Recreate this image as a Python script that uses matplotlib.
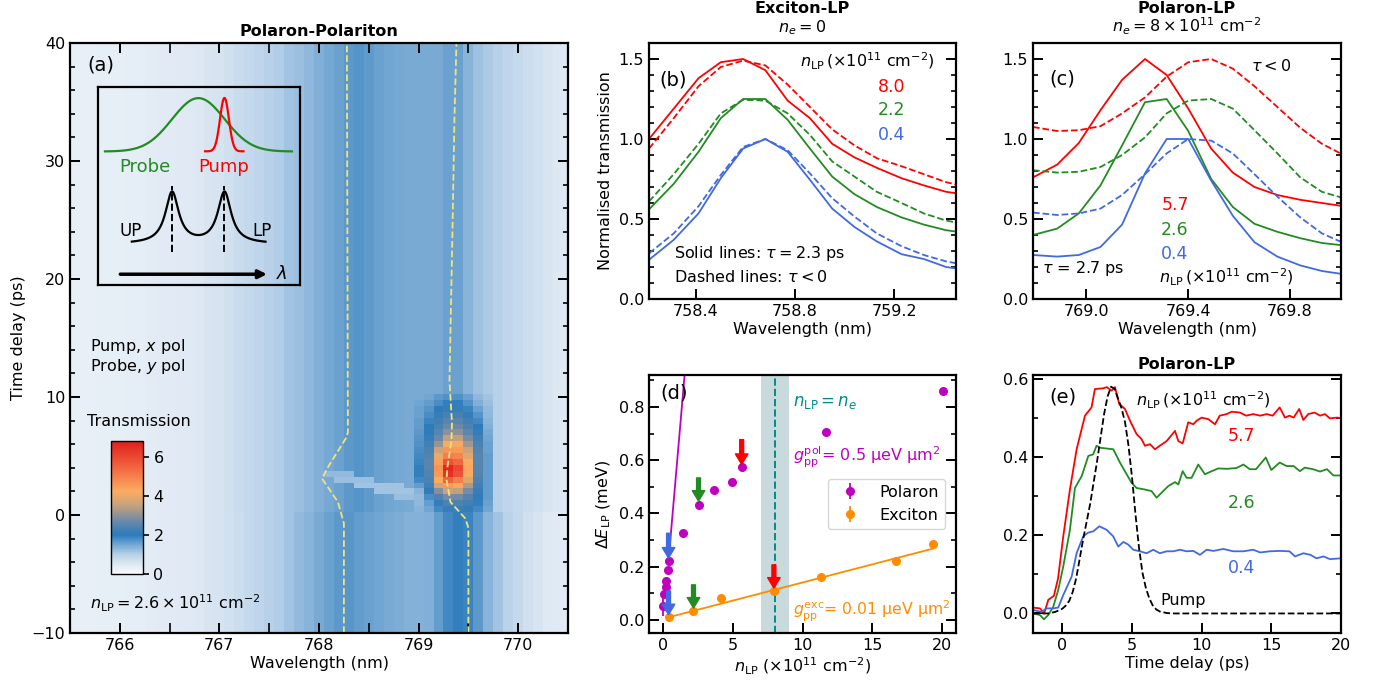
import numpy as np
import matplotlib
matplotlib.use('Agg')
import matplotlib.pyplot as plt
from matplotlib.colors import LinearSegmentedColormap

RED = 'red'
GREEN = 'forestgreen'
BLUE = 'royalblue'
MAG = 'm'
ORANGE = 'darkorange'
TEAL = 'darkcyan'
YEL = '#f2e27a'

plt.rcParams.update({
    'font.family': 'DejaVu Sans', 'font.size': 11,
    'axes.linewidth': 1.6, 'xtick.major.width': 1.4, 'ytick.major.width': 1.4,
    'xtick.minor.width': 1.2, 'ytick.minor.width': 1.2,
    'xtick.labelsize': 11.5, 'ytick.labelsize': 11.5, 'axes.labelsize': 11.5,
})

# ---------------- (a) heatmap data ----------------
wl_a = np.round(np.arange(765.5, 770.51, 0.1), 2)      # measured columns (nm)
t_a = np.arange(-10, 40.01, 0.5)                       # measured rows (ps)
# transmission spectra before (t <= 0) and after pump
spec_neg = [0.30, 0.30, 0.31, 0.32, 0.33, 0.34, 0.35, 0.36, 0.38, 0.40,
            0.42, 0.45, 0.48, 0.52, 0.56, 0.60, 0.66, 0.72, 0.80, 0.88,
            0.96, 1.05, 1.15, 1.25, 1.35, 1.45, 1.55, 1.65, 1.68, 1.62,
            1.55, 1.50, 1.45, 1.42, 1.38, 1.36, 1.40, 1.60, 1.85, 1.95,
            1.90, 1.65, 1.35, 1.15, 0.95, 0.80, 0.68, 0.58, 0.50, 0.45, 0.40]
spec_pos = [0.30, 0.30, 0.31, 0.32, 0.33, 0.34, 0.35, 0.36, 0.38, 0.40,
            0.42, 0.45, 0.48, 0.52, 0.56, 0.60, 0.68, 0.75, 0.82, 0.90,
            0.98, 1.06, 1.15, 1.22, 1.30, 1.40, 1.48, 1.55, 1.66, 1.70,
            1.64, 1.55, 1.50, 1.48, 1.46, 1.44, 1.44, 1.46, 1.55, 1.55,
            1.35, 1.18, 1.08, 0.98, 0.90, 0.82, 0.74, 0.64, 0.58, 0.52, 0.48]
# bright LP spot after the pump
spot_wl = [769.0, 769.1, 769.2, 769.3, 769.4, 769.5, 769.6, 769.7]
spot_t = [0.5, 1.0, 1.5, 2.0, 2.5, 3.0, 3.5, 4.0, 4.5, 5.0,
          5.5, 6.0, 6.5, 7.0, 7.5, 8.0, 8.5, 9.0, 9.5, 10.0]
spot_vals = [
    [1.35, 1.50, 1.85, 2.15, 2.20, 2.10, 1.85, 1.50],
    [1.30, 1.60, 2.10, 2.40, 2.40, 2.25, 1.95, 1.55],
    [1.25, 1.80, 2.40, 2.80, 2.75, 2.45, 2.05, 1.60],
    [1.35, 2.05, 2.90, 3.60, 3.50, 2.80, 2.15, 1.60],
    [1.60, 2.25, 3.70, 4.50, 4.30, 3.30, 2.25, 1.60],
    [1.85, 2.35, 4.20, 5.50, 5.00, 3.80, 2.35, 1.60],
    [1.95, 2.45, 4.50, 6.40, 5.80, 4.20, 2.45, 1.60],
    [1.95, 2.50, 4.60, 6.60, 6.00, 4.30, 2.50, 1.60],
    [1.90, 2.50, 4.40, 5.80, 5.40, 4.20, 2.50, 1.60],
    [1.85, 2.45, 4.00, 5.00, 4.90, 3.90, 2.50, 1.60],
    [1.80, 2.35, 3.60, 4.60, 4.50, 3.60, 2.45, 1.55],
    [1.75, 2.25, 3.10, 4.20, 4.10, 3.20, 2.35, 1.55],
    [1.70, 2.15, 2.70, 3.50, 3.50, 2.80, 2.25, 1.50],
    [1.65, 2.05, 2.50, 3.00, 3.00, 2.55, 2.10, 1.45],
    [1.60, 2.00, 2.35, 2.70, 2.70, 2.40, 2.00, 1.40],
    [1.60, 1.90, 2.25, 2.50, 2.50, 2.25, 1.85, 1.35],
    [1.55, 1.80, 2.15, 2.30, 2.30, 2.10, 1.70, 1.30],
    [1.55, 1.70, 2.00, 2.15, 2.15, 1.90, 1.55, 1.25],
    [1.50, 1.60, 1.80, 1.95, 1.95, 1.70, 1.40, 1.20],
    [1.45, 1.50, 1.65, 1.75, 1.75, 1.55, 1.30, 1.15],
]
# lighter streak across the UP-LP gap
streak_t = [3.5, 3.0, 2.5, 2.0, 1.5]
streak_lo = [768.1, 768.2, 768.4, 768.6, 768.8]
streak_hi = [768.3, 768.5, 768.8, 768.9, 768.9]
streak_val = [1.25, 1.20, 1.15, 1.15, 1.20]
# fitted UP / LP peak positions
up_t = [-10, -0.7, 1.1, 3.1, 4.2, 6.5, 7.0, 40]
up_wl = [768.25, 768.25, 768.19, 768.03, 768.10, 768.27, 768.29, 768.28]
lp_t = [-10, -1.1, -0.3, 1.1, 3.0, 4.1, 6.3, 7.8, 11.4, 24, 33.6, 40]
lp_wl = [769.50, 769.50, 769.47, 769.32, 769.28, 769.29, 769.33, 769.335,
         769.31, 769.34, 769.36, 769.38]

# ---------------- (b) Exciton-LP spectra ----------------
wl_b = [758.21, 758.31, 758.41, 758.50, 758.59, 758.68, 758.77, 758.86,
        758.95, 759.04, 759.13, 759.23, 759.32, 759.41, 759.50]
b_red_s = [1.0, 1.19, 1.38, 1.48, 1.50, 1.43, 1.24, 1.13, 0.97, 0.885, 0.82, 0.755, 0.71, 0.67, 0.65]
b_red_d = [0.94, 1.13, 1.33, 1.45, 1.49, 1.46, 1.34, 1.20, 1.06, 0.96, 0.88, 0.83, 0.78, 0.73, 0.70]
b_grn_s = [0.56, 0.72, 0.92, 1.13, 1.25, 1.25, 1.12, 0.94, 0.765, 0.655, 0.575, 0.51, 0.465, 0.43, 0.41]
b_grn_d = [0.61, 0.78, 0.97, 1.16, 1.245, 1.24, 1.16, 1.025, 0.86, 0.765, 0.67, 0.60, 0.535, 0.49, 0.465]
b_blu_s = [0.245, 0.37, 0.535, 0.755, 0.94, 1.0, 0.92, 0.745, 0.565, 0.45, 0.36, 0.28, 0.25, 0.20, 0.18]
b_blu_d = [0.285, 0.41, 0.58, 0.775, 0.95, 1.0, 0.93, 0.785, 0.63, 0.515, 0.41, 0.33, 0.275, 0.235, 0.21]

# ---------------- (c) Polaron-LP spectra ----------------
wl_c = [768.79, 768.885, 768.97, 769.055, 769.14, 769.23, 769.315, 769.40,
        769.49, 769.575, 769.66, 769.75, 769.84, 769.925, 770.01]
c_red_s = [0.76, 0.84, 0.975, 1.18, 1.37, 1.50, 1.40, 1.19, 0.94, 0.79, 0.70, 0.65, 0.62, 0.60, 0.58]
c_red_d = [1.075, 1.05, 1.055, 1.08, 1.16, 1.26, 1.39, 1.48, 1.50, 1.44, 1.33, 1.20, 1.07, 0.97, 0.90]
c_grn_s = [0.40, 0.44, 0.535, 0.71, 0.96, 1.23, 1.25, 1.05, 0.75, 0.575, 0.47, 0.42, 0.38, 0.35, 0.335]
c_grn_d = [0.805, 0.79, 0.795, 0.825, 0.90, 1.01, 1.16, 1.24, 1.25, 1.19, 1.055, 0.91, 0.76, 0.67, 0.63]
c_blu_s = [0.275, 0.265, 0.275, 0.325, 0.465, 0.785, 1.0, 1.0, 0.74, 0.52, 0.355, 0.265, 0.21, 0.175, 0.155]
c_blu_d = [0.54, 0.525, 0.535, 0.565, 0.65, 0.78, 0.91, 1.0, 0.99, 0.91, 0.78, 0.64, 0.51, 0.41, 0.35]

# ---------------- (d) energy shift ----------------
pol_n = [0.0, 0.1, 0.19, 0.24, 0.33, 0.40, 1.43, 2.55, 3.69, 4.98, 5.64, 11.67, 20.1]
pol_e = [0.05, 0.097, 0.123, 0.147, 0.186, 0.222, 0.327, 0.433, 0.487, 0.518, 0.575, 0.706, 0.859]
pol_err = [0.035, 0.02, 0.015, 0.012, 0.01, 0.01, 0.008, 0.008, 0.008, 0.008, 0.008, 0.008, 0.008]
exc_n = [0.40, 2.14, 4.14, 7.95, 11.33, 16.71, 19.33]
exc_e = [0.010, 0.031, 0.082, 0.107, 0.160, 0.222, 0.285]
exc_err = [0.006, 0.006, 0.006, 0.006, 0.006, 0.006, 0.006]
pol_fit_n = [0.40, 1.70]
pol_fit_e = [0.222, 1.01]
exc_fit_n = [0.40, 19.4]
exc_fit_e = [0.009, 0.268]
arrow_n = [0.40, 0.40, 2.55, 2.19, 5.64, 7.95]
arrow_tail = [0.325, 0.108, 0.533, 0.131, 0.677, 0.206]
arrow_tip = [0.232, 0.019, 0.446, 0.044, 0.584, 0.119]
arrow_col = [BLUE, BLUE, GREEN, GREEN, RED, RED]

# ---------------- (e) LP shift vs time ----------------
e_red_t = [-2.1, -1.6, -1.3, -1.0, -0.6, -0.3, 0.07, 0.55, 1.03, 1.63, 2.1, 2.34, 2.94, 3.2,
           3.54, 3.78, 4.09, 4.5, 4.86, 5.33, 5.69, 5.93, 6.3, 6.65, 7.0, 7.49, 8.09, 8.33,
           8.64, 9.04, 9.4, 9.64, 10.0, 10.48, 10.96, 11.3, 11.8, 12.15, 12.75, 13.2, 13.7,
           14.2, 14.67, 15.1, 15.6, 15.98, 16.3, 16.6, 17.0, 17.3, 17.65, 18.1, 18.5, 18.85,
           19.2, 19.7, 20.0]
e_red_v = [0.015, 0.013, 0.0, 0.035, 0.045, 0.09, 0.197, 0.317, 0.42, 0.506, 0.527, 0.574, 0.576,
           0.579, 0.57, 0.579, 0.536, 0.523, 0.493, 0.459, 0.446, 0.429, 0.433, 0.42, 0.429,
           0.441, 0.467, 0.441, 0.435, 0.489, 0.484, 0.493, 0.501, 0.497, 0.484, 0.506, 0.51,
           0.516, 0.514, 0.506, 0.51, 0.506, 0.51, 0.506, 0.527, 0.501, 0.506, 0.501, 0.523,
           0.495, 0.51, 0.514, 0.506, 0.51, 0.499, 0.501, 0.50]
e_grn_t = [-2.1, -1.6, -1.32, -1.0, -0.65, -0.29, 0.07, 0.55, 0.91, 1.39, 1.87, 2.22, 2.46, 2.7,
           3.18, 3.66, 4.14, 4.62, 4.98, 5.33, 5.93, 6.41, 6.77, 7.13, 7.61, 8.09, 8.33, 8.64,
           8.92, 9.28, 9.76, 10.24, 10.72, 11.2, 11.8, 12.5, 13.0, 13.45, 13.9, 14.3, 14.6,
           15.0, 15.6, 16.1, 16.6, 17.05, 17.4, 18.0, 18.5, 19.0, 19.45, 20.0]
e_grn_v = [0.0, -0.004, -0.015, -0.004, 0.017, 0.06, 0.12, 0.214, 0.321, 0.351, 0.403, 0.407,
           0.429, 0.424, 0.422, 0.42, 0.386, 0.356, 0.334, 0.321, 0.317, 0.313, 0.296, 0.309,
           0.326, 0.336, 0.33, 0.364, 0.347, 0.347, 0.381, 0.356, 0.364, 0.371, 0.37, 0.372,
           0.381, 0.369, 0.369, 0.386, 0.399, 0.367, 0.386, 0.377, 0.377, 0.364, 0.373, 0.369,
           0.363, 0.369, 0.353, 0.353]
e_blu_t = [-2.1, -1.5, -1.12, -0.65, -0.29, 0.07, 0.67, 1.03, 1.5, 1.87, 2.22, 2.66, 3.18, 3.66,
           4.02, 4.38, 4.74, 5.1, 5.57, 6.05, 6.53, 7.0, 7.49, 7.97, 8.45, 8.92, 9.4, 9.88,
           10.36, 10.84, 11.55, 12.27, 13.0, 13.7, 14.2, 14.9, 15.6, 16.3, 16.7, 17.3, 17.8,
           18.25, 18.75, 19.2, 20.0]
e_blu_v = [0.009, 0.004, 0.013, 0.013, 0.015, 0.047, 0.094, 0.154, 0.197, 0.207, 0.21, 0.223,
           0.214, 0.197, 0.171, 0.183, 0.176, 0.163, 0.159, 0.154, 0.163, 0.154, 0.159, 0.159,
           0.163, 0.159, 0.16, 0.15, 0.163, 0.16, 0.165, 0.159, 0.159, 0.163, 0.156, 0.159,
           0.16, 0.159, 0.146, 0.154, 0.15, 0.141, 0.146, 0.139, 0.141]
pump_t = [-2.1, -1.0, -0.5, 0.0, 0.25, 0.5, 0.75, 1.0, 1.25, 1.5, 1.75, 2.0, 2.25, 2.5, 2.75,
          3.0, 3.25, 3.5, 3.75, 4.0, 4.25, 4.5, 4.75, 5.0, 5.25, 5.5, 5.75, 6.0, 6.25, 6.5,
          6.75, 7.0, 7.5, 8.0, 20.0]
pump_v = [0.0, 0.0, 0.004, 0.012, 0.02, 0.032, 0.055, 0.09, 0.14, 0.19, 0.235, 0.28, 0.335,
          0.39, 0.45, 0.51, 0.555, 0.58, 0.575, 0.55, 0.525, 0.49, 0.43, 0.35, 0.255, 0.17,
          0.105, 0.065, 0.038, 0.02, 0.01, 0.005, 0.001, 0.0, 0.0]

# ---------------- figure ----------------
fig = plt.figure(figsize=(13.77, 6.81), dpi=100)
W, H = 1377.0, 681.0
def px_axes(x0, x1, y0, y1):
    return fig.add_axes([x0 / W, (H - y1) / H, (x1 - x0) / W, (y1 - y0) / H])

ax_a = px_axes(70, 568, 43, 633)
ax_b = px_axes(649, 956, 43, 299)
ax_c = px_axes(1033, 1341, 43, 299)
ax_d = px_axes(649, 956, 375, 633)
ax_e = px_axes(1033, 1341, 375, 633)

def style(ax, top=False):
    ax.tick_params(which='both', direction='in', right=True, top=top)
    ax.tick_params(which='major', length=7)
    ax.tick_params(which='minor', length=3.5)

# (a)
cmap = LinearSegmentedColormap.from_list('trans', [
    (0.0, '#f7fafd'), (0.075, '#dde8f3'), (0.15, '#b4cfe8'), (0.294, '#2c7bbb'),
    (0.38, '#5f87ad'), (0.44, '#8e9199'), (0.52, '#c7a27c'), (0.62, '#fbac62'),
    (0.80, '#f2663f'), (1.0, '#de1f1d')])
grid = np.where(t_a[:, None] <= 0, np.array(spec_neg)[None, :], np.array(spec_pos)[None, :])
for t, lo, hi, v in zip(streak_t, streak_lo, streak_hi, streak_val):
    i = np.argmin(abs(t_a - t))
    grid[i, (wl_a >= lo - 1e-6) & (wl_a <= hi + 1e-6)] = v
for i_t, t in enumerate(spot_t):
    i = np.argmin(abs(t_a - t))
    for i_w, w in enumerate(spot_wl):
        j = np.argmin(abs(wl_a - w))
        grid[i, j] = spot_vals[i_t][i_w]
im = ax_a.imshow(grid, origin='lower', aspect='auto', cmap=cmap, vmin=0, vmax=6.8,
                 interpolation='nearest',
                 extent=[wl_a[0] - 0.05, wl_a[-1] + 0.05, t_a[0] - 0.25, t_a[-1] + 0.25])
ax_a.plot(up_wl, up_t, '--', color=YEL, lw=1.3)
ax_a.plot(lp_wl, lp_t, '--', color=YEL, lw=1.3)
ax_a.set_xlim(765.5, 770.5); ax_a.set_ylim(-10, 40)
ax_a.set_xticks([766, 767, 768, 769, 770]); ax_a.set_xticks(np.arange(765.5, 770.6, 0.5), minor=True)
ax_a.set_yticks([-10, 0, 10, 20, 30, 40]); ax_a.set_yticks(np.arange(-10, 41, 2), minor=True)
style(ax_a, top=True)
ax_a.tick_params(axis='x', which='minor', length=7)
ax_a.set_xlabel('Wavelength (nm)', labelpad=2); ax_a.set_ylabel('Time delay (ps)')
ax_a.set_title('Polaron-Polariton', fontweight='bold', fontsize=11.5, pad=5)
ax_a.text(0.035, 0.963, '(a)', transform=ax_a.transAxes, fontsize=14, va='center')
ax_a.text(0.041, 0.485, 'Pump, $x$ pol', transform=ax_a.transAxes, fontsize=11.5, va='center')
ax_a.text(0.041, 0.451, 'Probe, $y$ pol', transform=ax_a.transAxes, fontsize=11.5, va='center')
ax_a.text(0.139, 0.358, 'Transmission', transform=ax_a.transAxes, fontsize=11.5, ha='center', va='center')
ax_a.text(0.041, 0.051, r'$n_{\rm LP} = 2.6 \times 10^{11}$ cm$^{-2}$', transform=ax_a.transAxes,
          fontsize=11.5, va='center')
cax = px_axes(111, 143, 441, 574)
cb = fig.colorbar(im, cax=cax, ticks=[0, 2, 4, 6])
cb.outline.set_linewidth(1.0)
cax.tick_params(labelsize=11.5, length=4, width=1.2)

# inset schematic (illustration only)
ins = ax_a.inset_axes([0.056, 0.59, 0.406, 0.335])
ins.set_facecolor('none')
ins.set_xlim(0, 1); ins.set_ylim(0, 1)
ins.set_xticks([]); ins.set_yticks([])
for s in ins.spines.values():
    s.set_linewidth(1.6)
xs = np.linspace(0.035, 0.96, 200)
ins.plot(xs, 0.675 + 0.27 * np.exp(-(xs - 0.497) ** 2 / (2 * 0.13 ** 2)), color=GREEN, lw=1.6)
xp = np.linspace(0.53, 0.72, 120)
ins.plot(xp, 0.676 + 0.27 * np.exp(-(xp - 0.626) ** 2 / (2 * 0.022 ** 2)), color=RED, lw=1.6)
xl = np.linspace(0.168, 0.829, 300)
lor = 0.04 ** 2 / ((xl - 0.367) ** 2 + 0.04 ** 2) + 0.04 ** 2 / ((xl - 0.626) ** 2 + 0.04 ** 2)
ins.plot(xl, 0.207 + 0.26 * lor, color='black', lw=1.6)
ins.plot([0.367, 0.367], [0.164, 0.502], '--', color='black', lw=1.4)
ins.plot([0.626, 0.626], [0.164, 0.502], '--', color='black', lw=1.4)
ins.text(0.23, 0.598, 'Probe', color=GREEN, fontsize=13, ha='center', va='center')
ins.text(0.62, 0.598, 'Pump', color=RED, fontsize=13, ha='center', va='center')
ins.text(0.164, 0.274, 'UP', fontsize=12, ha='center', va='center')
ins.text(0.81, 0.274, 'LP', fontsize=12, ha='center', va='center')
ins.annotate('', xy=(0.85, 0.054), xytext=(0.097, 0.054),
             arrowprops=dict(arrowstyle='-|>', color='black', lw=2.5, mutation_scale=12))
ins.text(0.912, 0.054, r'$\lambda$', fontsize=13, ha='center', va='center')

# (b)
ax_b.plot(wl_b, b_red_s, color=RED, lw=1.3)
ax_b.plot(wl_b, b_red_d, '--', color=RED, lw=1.3)
ax_b.plot(wl_b, b_grn_s, color=GREEN, lw=1.3)
ax_b.plot(wl_b, b_grn_d, '--', color=GREEN, lw=1.3)
ax_b.plot(wl_b, b_blu_s, color=BLUE, lw=1.3)
ax_b.plot(wl_b, b_blu_d, '--', color=BLUE, lw=1.3)
ax_b.set_xlim(758.21, 759.45); ax_b.set_ylim(0, 1.6)
ax_b.set_xticks([758.4, 758.8, 759.2]); ax_b.set_yticks([0, 0.5, 1.0, 1.5])
ax_b.set_yticks(np.arange(0, 1.61, 0.1), minor=True)
style(ax_b)
ax_b.set_xlabel('Wavelength (nm)', labelpad=2); ax_b.set_ylabel('Normalised transmission')
ax_b.text(0.5, 1.025, '$n_e = 0$', transform=ax_b.transAxes, ha='center', va='bottom', fontsize=11.5)
ax_b.text(0.5, 1.105, 'Exciton-LP', transform=ax_b.transAxes, ha='center', va='bottom',
          fontsize=11.5, fontweight='bold')
ax_b.text(0.035, 0.855, '(b)', transform=ax_b.transAxes, fontsize=14, va='center')
ax_b.text(0.93, 0.927, r'$n_{\rm LP}\,(\times10^{11}$ cm$^{-2})$', transform=ax_b.transAxes,
          ha='right', va='center', fontsize=11.5)
ax_b.text(0.79, 0.83, '8.0', color=RED, transform=ax_b.transAxes, ha='center', va='center', fontsize=12.5)
ax_b.text(0.79, 0.737, '2.2', color=GREEN, transform=ax_b.transAxes, ha='center', va='center', fontsize=12.5)
ax_b.text(0.79, 0.64, '0.4', color=BLUE, transform=ax_b.transAxes, ha='center', va='center', fontsize=12.5)
ax_b.text(0.083, 0.178, r'Solid lines: $\tau = 2.3$ ps', transform=ax_b.transAxes, va='center', fontsize=11.5)
ax_b.text(0.083, 0.0875, r'Dashed lines: $\tau < 0$', transform=ax_b.transAxes, va='center', fontsize=11.5)

# (c)
ax_c.plot(wl_c, c_red_s, color=RED, lw=1.3)
ax_c.plot(wl_c, c_red_d, '--', color=RED, lw=1.3)
ax_c.plot(wl_c, c_grn_s, color=GREEN, lw=1.3)
ax_c.plot(wl_c, c_grn_d, '--', color=GREEN, lw=1.3)
ax_c.plot(wl_c, c_blu_s, color=BLUE, lw=1.3)
ax_c.plot(wl_c, c_blu_d, '--', color=BLUE, lw=1.3)
ax_c.set_xlim(768.79, 770.0); ax_c.set_ylim(0, 1.6)
ax_c.set_xticks([769.0, 769.4, 769.8]); ax_c.set_yticks([0, 0.5, 1.0, 1.5])
ax_c.set_yticks(np.arange(0, 1.61, 0.1), minor=True)
style(ax_c)
ax_c.set_xlabel('Wavelength (nm)', labelpad=2)
ax_c.text(0.5, 1.025, r'$n_e = 8 \times 10^{11}$ cm$^{-2}$', transform=ax_c.transAxes,
          ha='center', va='bottom', fontsize=11.5)
ax_c.text(0.5, 1.105, 'Polaron-LP', transform=ax_c.transAxes, ha='center', va='bottom',
          fontsize=11.5, fontweight='bold')
ax_c.text(0.052, 0.86, '(c)', transform=ax_c.transAxes, fontsize=14, va='center')
ax_c.text(0.773, 0.91, r'$\tau < 0$', transform=ax_c.transAxes, ha='center', va='center', fontsize=11.5)
ax_c.text(0.461, 0.366, '5.7', color=RED, transform=ax_c.transAxes, ha='center', va='center', fontsize=12.5)
ax_c.text(0.461, 0.27, '2.6', color=GREEN, transform=ax_c.transAxes, ha='center', va='center', fontsize=12.5)
ax_c.text(0.461, 0.177, '0.4', color=BLUE, transform=ax_c.transAxes, ha='center', va='center', fontsize=12.5)
ax_c.text(0.628, 0.086, r'$n_{\rm LP}\,(\times10^{11}$ cm$^{-2})$', transform=ax_c.transAxes,
          ha='center', va='center', fontsize=11.5)
ax_c.text(0.03, 0.119, r'$\tau$ = 2.7 ps', transform=ax_c.transAxes, va='center', fontsize=11.5)

# (d)
ax_d.axvspan(7, 9, color='#c9dadc', lw=0)
ax_d.axvline(8, color=TEAL, ls='--', lw=1.4)
ax_d.plot(pol_fit_n, pol_fit_e, color=MAG, lw=1.3)
ax_d.plot(exc_fit_n, exc_fit_e, color=ORANGE, lw=1.3)
ax_d.errorbar(pol_n, pol_e, yerr=pol_err, fmt='o', color=MAG, ms=5.5, elinewidth=1.3, label='Polaron')
ax_d.errorbar(exc_n, exc_e, yerr=exc_err, fmt='o', color=ORANGE, ms=5.5, elinewidth=1.3, label='Exciton')
for n, a0, a1, c in zip(arrow_n, arrow_tail, arrow_tip, arrow_col):
    ax_d.annotate('', xy=(n, a1), xytext=(n, a0),
                  arrowprops=dict(facecolor=c, edgecolor=c, width=2.8, headwidth=9, headlength=7.5))
ax_d.set_xlim(-1, 21); ax_d.set_ylim(-0.05, 0.92)
ax_d.set_xticks([0, 5, 10, 15, 20]); ax_d.set_yticks([0, 0.2, 0.4, 0.6, 0.8])
ax_d.set_yticks(np.arange(0, 0.91, 0.1), minor=True)
style(ax_d)
ax_d.set_xlabel(r'$n_{\rm LP}$ ($\times10^{11}$ cm$^{-2}$)', labelpad=2)
ax_d.set_ylabel(r'$\Delta E_{\rm LP}$ (meV)')
ax_d.legend(loc='center right', bbox_to_anchor=(0.99, 0.5), fontsize=11.5)
ax_d.text(0.037, 0.932, '(d)', transform=ax_d.transAxes, fontsize=14, va='center')
ax_d.text(0.47, 0.894, r'$n_{\rm LP} = n_e$', color=TEAL, transform=ax_d.transAxes, va='center', fontsize=12)
ax_d.text(0.47, 0.679, r'$g_{\rm pp}^{\rm pol}$= 0.5 μeV μm$^2$', color=MAG,
          transform=ax_d.transAxes, va='center', fontsize=11.5)
ax_d.text(0.47, 0.083, r'$g_{\rm pp}^{\rm exc}$= 0.01 μeV μm$^2$', color=ORANGE,
          transform=ax_d.transAxes, va='center', fontsize=11.3)

# (e)
ax_e.plot(e_red_t, e_red_v, color=RED, lw=1.3)
ax_e.plot(e_grn_t, e_grn_v, color=GREEN, lw=1.3)
ax_e.plot(e_blu_t, e_blu_v, color=BLUE, lw=1.3)
ax_e.plot(pump_t, pump_v, '--', color='black', lw=1.3)
ax_e.set_xlim(-2.1, 20); ax_e.set_ylim(-0.05, 0.61)
ax_e.set_xticks([0, 5, 10, 15, 20]); ax_e.set_yticks([0, 0.2, 0.4, 0.6])
ax_e.set_yticks(np.arange(0, 0.61, 0.1), minor=True)
style(ax_e)
ax_e.set_xlabel('Time delay (ps)', labelpad=2)
ax_e.set_title('Polaron-LP', fontweight='bold', fontsize=11.5, pad=4)
ax_e.text(0.053, 0.913, '(e)', transform=ax_e.transAxes, fontsize=14, va='center')
ax_e.text(0.336, 0.9, r'$n_{\rm LP}\,(\times10^{11}$ cm$^{-2})$', transform=ax_e.transAxes,
          va='center', fontsize=11.5)
ax_e.text(0.677, 0.762, '5.7', color=RED, transform=ax_e.transAxes, ha='center', va='center', fontsize=12.5)
ax_e.text(0.677, 0.505, '2.6', color=GREEN, transform=ax_e.transAxes, ha='center', va='center', fontsize=12.5)
ax_e.text(0.677, 0.252, '0.4', color=BLUE, transform=ax_e.transAxes, ha='center', va='center', fontsize=12.5)
ax_e.text(0.486, 0.127, 'Pump', transform=ax_e.transAxes, ha='center', va='center', fontsize=11.5)

fig.savefig('out.png', dpi=100)
